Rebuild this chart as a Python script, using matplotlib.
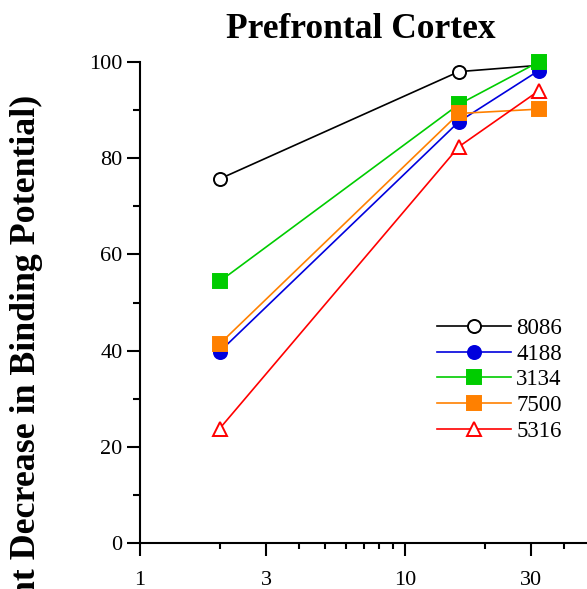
import matplotlib
matplotlib.use("Agg")
import matplotlib.pyplot as plt
import numpy as np
from matplotlib.ticker import FixedLocator, NullFormatter, MultipleLocator

plt.rcParams['font.family'] = ['Liberation Serif', 'DejaVu Serif']

# doses and occupancy values per compound
doses = [2, 16, 32]
occ_8086 = [75.7, 98.0, 99.3]
occ_4188 = [39.8, 87.6, 98.2]
occ_3134 = [54.4, 91.2, 100.0]
occ_7500 = [41.4, 89.3, 90.2]
occ_5316 = [23.8, 82.4, 94.0]

labels = ['8086', '4188', '3134', '7500', '5316']
series = [occ_8086, occ_4188, occ_3134, occ_7500, occ_5316]
colors = ['black', '#0000dd', '#00cc00', '#ff8000', '#ff0000']
markers = ['o', 'o', 's', 's', '^']
filled = [False, True, True, True, False]

xticks = [1, 3, 10, 30]
yticks = [0, 20, 40, 60, 80, 100]

W, H = 587, 589
fig = plt.figure(figsize=(W / 100, H / 100), dpi=100)
# axes placed in pixel terms; right side runs past the figure edge like the original
ax = fig.add_axes([140 / W, (H - 543) / H, 450 / W, (543 - 62) / H])

sizes = {'o': 9.4, 's': 9.8, '^': 9.6}
for lab, ys, c, m, f in zip(labels, series, colors, markers, filled):
    ax.plot(doses, ys, color=c, lw=1.2, marker=m, ms=sizes[m],
            markerfacecolor=c if f else 'white', markeredgecolor=c,
            markeredgewidth=1.4, label=lab, clip_on=False)

ax.set_xscale('log')
ax.set_xlim(1, 50)
ax.set_ylim(0, 100)
ax.xaxis.set_major_locator(FixedLocator(xticks))
ax.set_xticklabels([str(t) for t in xticks])
ax.xaxis.set_minor_locator(FixedLocator([2, 4, 5, 6, 7, 8, 9, 20, 40]))
ax.xaxis.set_minor_formatter(NullFormatter())
ax.yaxis.set_major_locator(FixedLocator(yticks))
ax.yaxis.set_minor_locator(MultipleLocator(10))

for s in ['top', 'right']:
    ax.spines[s].set_visible(False)
for s in ['left', 'bottom']:
    ax.spines[s].set_linewidth(1.5)

ax.tick_params(axis='both', which='major', direction='out', length=9.5, width=1.5, labelsize=16)
ax.tick_params(axis='y', which='minor', direction='out', length=5, width=1.5)
ax.tick_params(axis='x', which='minor', direction='out', length=4, width=1.5)
ax.tick_params(axis='y', which='major', pad=3)
ax.tick_params(axis='x', which='major', pad=11)

ax.set_title('Prefrontal Cortex', fontsize=25.5, fontweight='bold', pad=17, x=0.491)

fig.text(26 / W, 1 - 95 / H, 'Occupancy (Percent Decrease in Binding Potential)',
         rotation=90, rotation_mode='anchor', ha='right', va='center',
         fontsize=25.8, fontweight='bold')

leg = ax.legend(loc='upper left', bbox_to_anchor=(437 / W, 1 - 318 / H),
                bbox_transform=fig.transFigure, frameon=False, fontsize=16.5,
                handlelength=3.25, handletextpad=0.2, labelspacing=0.2,
                numpoints=1, borderpad=0, borderaxespad=0)

fig.savefig('out.png', dpi=100)
